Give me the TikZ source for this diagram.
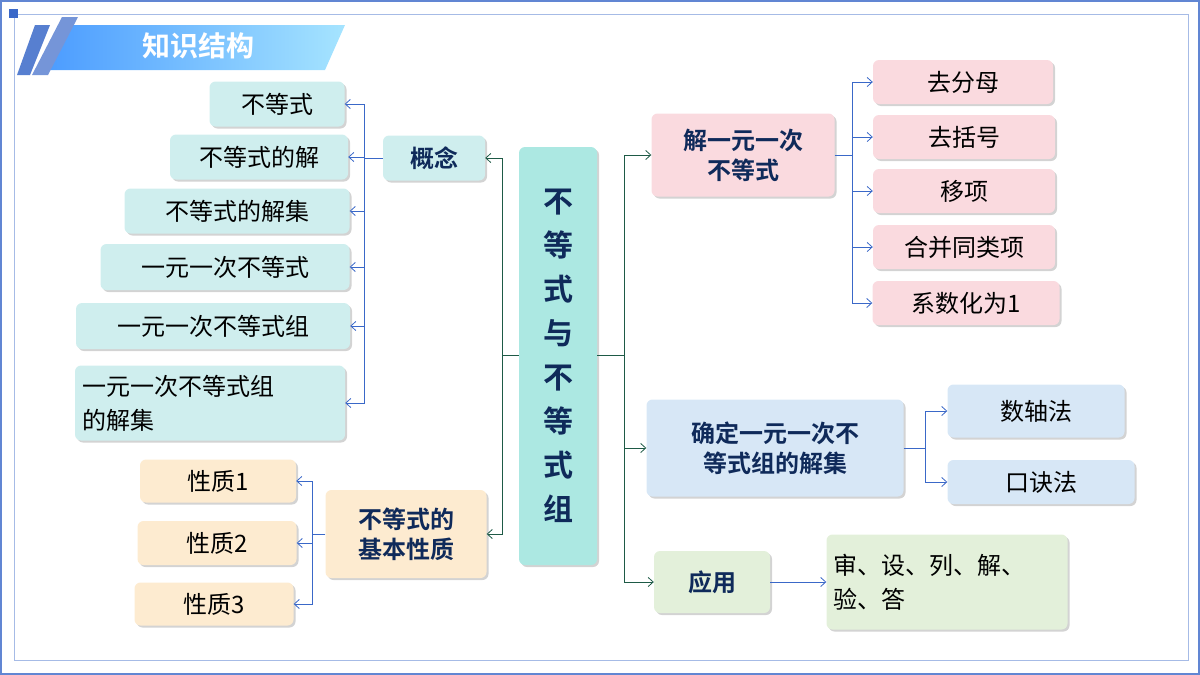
\documentclass[tikz,border=0pt]{standalone}
\usepackage{fontspec}
\setmainfont{Noto Sans CJK SC}
\newfontfamily\cjkb{Noto Sans CJK SC Bold}
\usetikzlibrary{shadows,arrows.meta}
\definecolor{navy}{HTML}{0F2A5A}
\definecolor{teal}{HTML}{ACE8E2}
\definecolor{lteal}{HTML}{CFEEEE}
\definecolor{lorange}{HTML}{FDEBD0}
\definecolor{lpink}{HTML}{FADADF}
\definecolor{lblue}{HTML}{D7E7F6}
\definecolor{lgreen}{HTML}{E3F0DA}
\definecolor{bl}{HTML}{3A68C8}
\definecolor{dg}{HTML}{1E5A46}
\tikzset{
 box/.style={rounded corners=6pt, draw=none, drop shadow={shadow xshift=2pt,shadow yshift=-2pt,opacity=0.35}, inner sep=0pt, font=\fontsize{24}{28}\selectfont, text=black},
 hd/.style={box, font=\cjkb\fontsize{24}{30}\selectfont, text=navy, align=center},
 bA/.style={draw=bl, line width=0.8pt, -{Straight Barb[length=5pt,width=9pt]}},
 gA/.style={draw=dg, line width=0.8pt, -{Straight Barb[length=5pt,width=9pt]}},
}
\begin{document}
\begin{tikzpicture}[x=1pt,y=-1pt]
\useasboundingbox (0,0) rectangle (1200,675);
% frame
\draw[bl!80, line width=2pt] (1,1) rectangle (1199,674);
\draw[bl!45, line width=1pt] (14,660) -- (14,14) -- (1188,14) -- (1188,660) -- cycle;
\fill[bl] (9,9) rectangle (18,18);
% title banner
\shade[left color=blue!55!cyan!70, right color=blue!30!cyan!35] (70,25) -- (345,25) -- (325,70) -- (50,70) -- cycle;
\fill[bl!85] (35,25) -- (50,25) -- (30,75) -- (17,75) -- cycle;
\fill[bl!70] (62,17) -- (78,17) -- (48,75) -- (32,75) -- cycle;
\node[font=\cjkb\fontsize{28}{30}\selectfont, text=white] (title) at (198,46) {知识结构};
% central
\node[box, fill=teal, minimum width=78pt, minimum height=418pt, font=\cjkb\fontsize{30}{44}\selectfont, text=navy, align=center] (c) at (558,356) {不\\等\\式\\与\\不\\等\\式\\组};
% left
\node[hd, fill=lteal, minimum width=102pt, minimum height=45pt] (gn) at (434,158) {概念};
\node[box, fill=lteal, minimum width=135pt, minimum height=45pt] (l1) at (277,104) {不等式};
\node[box, fill=lteal, minimum width=178pt, minimum height=45pt] (l2) at (259,157) {不等式的解};
\node[box, fill=lteal, minimum width=225pt, minimum height=45pt] (l3) at (237,211) {不等式的解集};
\node[box, fill=lteal, minimum width=249pt, minimum height=46pt] (l4) at (225,267) {一元一次不等式};
\node[box, fill=lteal, minimum width=274pt, minimum height=46pt] (l5) at (213,326) {一元一次不等式组};
\node[box, fill=lteal, minimum width=270pt, minimum height=75pt, align=left, text width=255pt, font=\fontsize{24}{34}\selectfont] (l6) at (210,403) {一元一次不等式组\\的解集};
\coordinate (jl) at (364,158);
\draw[draw=bl, line width=0.8pt] (gn.west) -- (jl);
\foreach \n in {l1,l2,l3,l4,l5,l6}{\draw[bA] (jl) |- (\n.east);}
\node[hd, fill=lorange, minimum width=161pt, minimum height=88pt] (xz) at (406,534) {不等式的\\基本性质};
\node[box, fill=lorange, minimum width=156pt, minimum height=43pt] (x1) at (218,481) {性质1};
\node[box, fill=lorange, minimum width=159pt, minimum height=44pt] (x2) at (217,543) {性质2};
\node[box, fill=lorange, minimum width=159pt, minimum height=43pt] (x3) at (214,604) {性质3};
\coordinate (jx) at (312,534);
\draw[draw=bl, line width=0.8pt] (xz.west) -- (jx);
\foreach \n in {x1,x2,x3}{\draw[bA] (jx) |- (\n.east);}
\coordinate (jc) at (502,355);
\draw[draw=dg, line width=0.8pt] (c.west|-jc) -- (jc);
\draw[gA] (jc) |- (gn.east);
\draw[gA] (jc) |- (xz.east);
% right
\node[hd, fill=lpink, minimum width=183pt, minimum height=83pt] (jy) at (743,155) {解一元一次\\不等式};
\node[hd, fill=lblue, minimum width=257pt, minimum height=97pt] (qd) at (775,448) {确定一元一次不\\等式组的解集};
\node[hd, fill=lgreen, minimum width=116pt, minimum height=62pt] (yy) at (712,582) {应用};
\coordinate (jr) at (624,355);
\draw[draw=dg, line width=0.8pt] (c.east|-jr) -- (jr);
\foreach \n in {jy,qd,yy}{\draw[gA] (jr) |- (\n.west);}
\node[box, fill=lpink, minimum width=180pt, minimum height=44pt] (r1) at (963,82) {去分母};
\node[box, fill=lpink, minimum width=182pt, minimum height=44pt] (r2) at (964,137) {去括号};
\node[box, fill=lpink, minimum width=182pt, minimum height=44pt] (r3) at (964,191) {移项};
\node[box, fill=lpink, minimum width=182pt, minimum height=44pt] (r4) at (964,247) {合并同类项};
\node[box, fill=lpink, minimum width=187pt, minimum height=44pt] (r5) at (966,303) {系数化为1};
\coordinate (jj) at (852,155);
\draw[draw=bl, line width=0.8pt] (jy.east) -- (jj);
\foreach \n in {r1,r2,r3,r4,r5}{\draw[bA] (jj) |- (\n.west);}
\node[box, fill=lblue, minimum width=177pt, minimum height=53pt] (s1) at (1036,411) {数轴法};
\node[box, fill=lblue, minimum width=187pt, minimum height=44pt] (s2) at (1041,482) {口诀法};
\coordinate (jq) at (925,448);
\draw[draw=bl, line width=0.8pt] (qd.east) -- (jq);
\foreach \n in {s1,s2}{\draw[bA] (jq) |- (\n.west);}
\node[box, fill=lgreen, minimum width=241pt, minimum height=95pt, align=left, text width=228pt, font=\fontsize{24}{34}\selectfont] (yd) at (947,582) {审、设、列、解、\\验、答};
\draw[bA] (yy.east) -- (yd.west);
\end{tikzpicture}
\end{document}
